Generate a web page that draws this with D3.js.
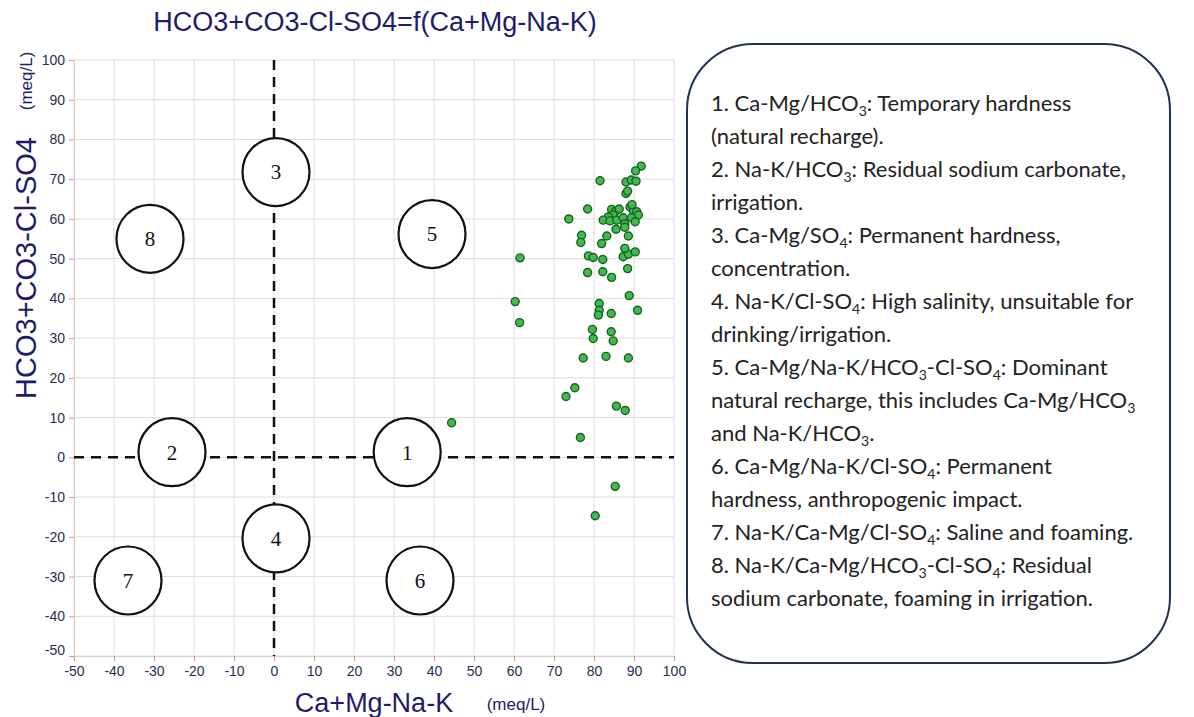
<!DOCTYPE html>
<html>
<head>
<meta charset="utf-8">
<script src="https://cdn.jsdelivr.net/npm/d3@7"></script>
<style>
  body { margin: 0; background: #fff; }
  svg { display: block; }
</style>
</head>
<body>
<div class="canvas"></div>
<script>
// sample points (meq/L)
const caMgNaK = [91.8, 90.4, 81.5, 88.0, 89.3, 90.5, 88.0, 88.4, 78.4, 73.7,
  84.4, 85.3, 86.3, 84.8, 83.6, 82.3, 84.0, 85.7, 87.3, 89.0,
  89.8, 90.7, 91.1, 89.4, 87.7, 87.7, 90.3, 85.5, 83.2, 88.6,
  81.9, 76.9, 76.7, 78.6, 79.8, 82.2, 87.3, 88.6, 90.3, 61.5,
  78.4, 82.2, 84.4, 88.4, 88.8, 60.3, 61.4, 81.3, 81.3, 81.1,
  84.3, 90.9, 79.6, 84.3, 79.8, 84.8, 77.3, 83.0, 88.6, 75.2,
  73.0, 85.6, 87.8, 76.6, 44.4, 85.3, 80.3, 87.7, 89.5];
const hco3Co3ClSo4 = [73.3, 72.1, 69.6, 69.3, 69.8, 69.5, 66.4, 67.0, 62.5, 60.0,
  62.4, 61.8, 62.5, 61.0, 60.5, 59.7, 59.5, 59.7, 60.3, 63.0,
  62.2, 61.8, 61.0, 60.3, 58.8, 57.9, 59.3, 57.4, 55.7, 55.7,
  53.8, 55.9, 54.1, 50.7, 50.3, 49.8, 50.5, 51.1, 51.7, 50.2,
  46.5, 46.7, 45.3, 47.5, 40.7, 39.2, 33.9, 38.7, 37.0, 35.8,
  36.2, 37.0, 32.2, 31.6, 29.9, 29.3, 25.0, 25.4, 25.0, 17.5,
  15.3, 12.9, 11.8, 5.0, 8.7, -7.3, -14.7, 52.6, 63.6];

// zone markers
const zoneIds = ['1', '2', '3', '4', '5', '6', '7', '8'];
const zoneX = [33.3, -25.5, 0.5, 0.5, 39.5, 36.5, -36.5, -31];
const zoneY = [1.3, 1.3, 71.8, -20.4, 56.2, -31, -31, 55];

const xTicks = d3.range(-50, 101, 10);
const yTicks = d3.range(-50, 101, 10);

// legend lines, {n} = subscript
const legendLines = [
  '1. Ca-Mg/HCO{3}: Temporary hardness',
  '(natural recharge).',
  '2. Na-K/HCO{3}: Residual sodium carbonate,',
  'irrigation.',
  '3. Ca-Mg/SO{4}: Permanent hardness,',
  'concentration.',
  '4. Na-K/Cl-SO{4}: High salinity, unsuitable for',
  'drinking/irrigation.',
  '5. Ca-Mg/Na-K/HCO{3}-Cl-SO{4}: Dominant',
  'natural recharge, this includes Ca-Mg/HCO{3}',
  'and Na-K/HCO{3}.',
  '6. Ca-Mg/Na-K/Cl-SO{4}: Permanent',
  'hardness, anthropogenic impact.',
  '7. Na-K/Ca-Mg/Cl-SO{4}: Saline and foaming.',
  '8. Na-K/Ca-Mg/HCO{3}-Cl-SO{4}: Residual',
  'sodium carbonate, foaming in irrigation.'
];

const W = 1194, H = 717;
const plot = {left: 74, right: 674, top: 60, bottom: 656};
const navy = '#1c1c6b';

const svg = d3.select('.canvas')
  .append('svg')
  .attr('width', W)
  .attr('height', H)
  .style('font-family', 'Liberation Sans, Arial, sans-serif');

const x = d3.scaleLinear().domain([-50, 100]).range([plot.left, plot.right]);
const y = d3.scaleLinear().domain([-50, 100]).range([plot.bottom, plot.top]);

// grid
const grid = svg.append('g');
grid.selectAll('.gx').data(xTicks).enter().append('line')
  .attr('x1', d => x(d)).attr('x2', d => x(d))
  .attr('y1', plot.top).attr('y2', plot.bottom)
  .attr('stroke', '#dcdcdc').attr('stroke-width', 1);
grid.selectAll('.gy').data(yTicks).enter().append('line')
  .attr('y1', d => y(d)).attr('y2', d => y(d))
  .attr('x1', plot.left).attr('x2', plot.right)
  .attr('stroke', '#dcdcdc').attr('stroke-width', 1);

// axes (plain hyphen for negatives, like the original)
const fmt = d => String(d);
const xAxis = svg.append('g')
  .attr('transform', `translate(0,${plot.bottom})`)
  .call(d3.axisBottom(x).tickValues(xTicks).tickFormat(fmt).tickSize(5).tickPadding(5));
const yAxis = svg.append('g')
  .attr('transform', `translate(${plot.left},0)`)
  .call(d3.axisLeft(y).tickValues(yTicks).tickFormat(fmt).tickSize(5).tickPadding(4));

[xAxis, yAxis].forEach(a => {
  a.select('.domain').attr('stroke', '#d0d0d0');
  a.selectAll('.tick line').attr('stroke', '#e09090');
  a.selectAll('.tick text')
    .attr('fill', '#2b2b55')
    .style('font-size', '14px')
    .style('font-family', 'Liberation Sans, Arial, sans-serif');
});
yAxis.selectAll('.tick text').filter(d => d === -50).attr('dy', '-0.1em');

// dashed zero lines
svg.append('line')
  .attr('x1', x(0)).attr('x2', x(0))
  .attr('y1', plot.top).attr('y2', plot.bottom)
  .attr('stroke', '#111').attr('stroke-width', 2.5)
  .attr('stroke-dasharray', '10,7');
svg.append('line')
  .attr('x1', plot.left).attr('x2', plot.right)
  .attr('y1', y(0)).attr('y2', y(0))
  .attr('stroke', '#111').attr('stroke-width', 2.5)
  .attr('stroke-dasharray', '10,7');

// zone circles
const zones = svg.append('g').selectAll('g')
  .data(zoneIds)
  .enter().append('g')
  .attr('transform', (d, i) => `translate(${x(zoneX[i])},${y(zoneY[i])})`);
zones.append('ellipse')
  .attr('rx', 33.5).attr('ry', 34)
  .attr('fill', '#fff')
  .attr('stroke', '#111').attr('stroke-width', 2.2);
zones.append('text')
  .text(d => d)
  .attr('text-anchor', 'middle')
  .attr('dy', '0.35em')
  .style('font-family', 'Liberation Serif, Times New Roman, serif')
  .style('font-size', '21px')
  .attr('fill', '#111');

// points
svg.append('g').selectAll('circle')
  .data(caMgNaK)
  .enter().append('circle')
  .attr('cx', d => x(d))
  .attr('cy', (d, i) => y(hco3Co3ClSo4[i]))
  .attr('r', 4)
  .attr('fill', '#3dbb4c')
  .attr('stroke', '#1d5e26')
  .attr('stroke-width', 1.4);

// titles
svg.append('text')
  .attr('x', 375).attr('y', 31)
  .attr('text-anchor', 'middle')
  .attr('fill', navy)
  .style('font-size', '27px')
  .text('HCO3+CO3-Cl-SO4=f(Ca+Mg-Na-K)');

svg.append('text')
  .attr('transform', 'translate(36,268) rotate(-90)')
  .attr('text-anchor', 'middle')
  .attr('fill', navy)
  .style('font-size', '29px')
  .text('HCO3+CO3-Cl-SO4');
svg.append('text')
  .attr('transform', 'translate(32,81) rotate(-90)')
  .attr('text-anchor', 'middle')
  .attr('fill', navy)
  .style('font-size', '17px')
  .text('(meq/L)');

svg.append('text')
  .attr('x', 374).attr('y', 712)
  .attr('text-anchor', 'middle')
  .attr('fill', navy)
  .style('font-size', '27px')
  .text('Ca+Mg-Na-K');
svg.append('text')
  .attr('x', 516).attr('y', 710)
  .attr('text-anchor', 'middle')
  .attr('fill', navy)
  .style('font-size', '17px')
  .text('(meq/L)');

// legend box
svg.append('rect')
  .attr('x', 687).attr('y', 44)
  .attr('width', 483).attr('height', 619)
  .attr('rx', 66).attr('ry', 66)
  .attr('fill', '#fff')
  .attr('stroke', '#233150')
  .attr('stroke-width', 2);

const legend = svg.append('g')
  .style('font-family', 'Lato, Open Sans, sans-serif')
  .style('font-size', '22px')
  .attr('fill', '#222');

legendLines.forEach((line, i) => {
  const t = legend.append('text')
    .attr('x', 711)
    .attr('y', 111 + i * 33);
  let shifted = false;
  line.split(/(\{\d\})/).forEach(part => {
    if (!part) return;
    const m = part.match(/^\{(\d)\}$/);
    if (m) {
      t.append('tspan').text(m[1])
        .style('font-size', '14px')
        .attr('dy', 5);
      shifted = true;
    } else {
      const s = t.append('tspan').text(part);
      if (shifted) { s.attr('dy', -5); shifted = false; }
    }
  });
});
</script>
</body>
</html>
